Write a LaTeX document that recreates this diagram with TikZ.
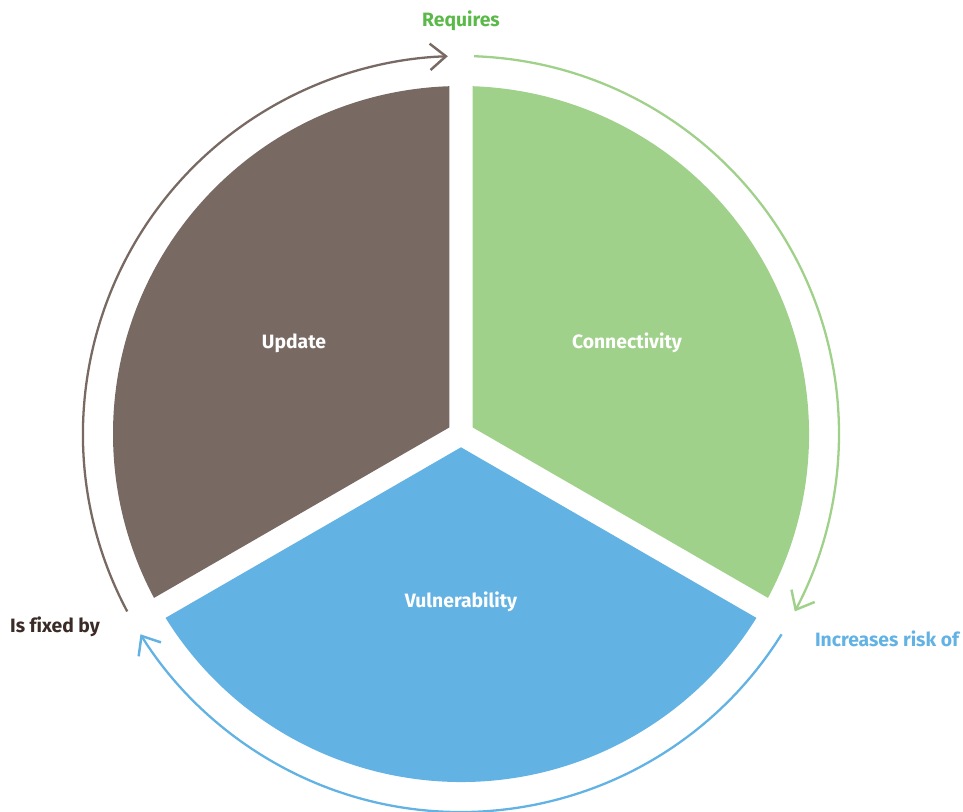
\documentclass[tikz,border=0pt]{standalone}
\usepackage{fontspec}
\setmainfont{Fira Sans}[Ligatures=NoCommon]
\usepackage{tikz}
\usetikzlibrary{arrows.meta}
\definecolor{updatebrown}{HTML}{786963}
\definecolor{connectgreen}{HTML}{A0D18A}
\definecolor{vulnblue}{HTML}{62B2E4}
\definecolor{requiresgreen}{HTML}{5BB94A}
\definecolor{fixeddark}{HTML}{3B2B27}
\tikzset{
  sectorlabel/.style={white, font=\bfseries\fontsize{11}{13}\selectfont},
  cyclelabel/.style={font=\bfseries\fontsize{11}{13}\selectfont},
  cyclearrow/.style={line width=1.3pt, -{Straight Barb[length=9pt, width=15pt, line width=1.4pt]}}
}

\begin{document}
\begin{tikzpicture}[x=0.02cm, y=0.02cm]
  \useasboundingbox (-461,-377) rectangle (502,434);
  % three sectors, each pulled off the centre to leave white gaps
  \fill[updatebrown] (150:13.3) -- (91.9:348) arc[start angle=91.9, end angle=208.1, radius=348] -- cycle;
  \fill[connectgreen] (30:13.3) -- (-28.1:348) arc[start angle=-28.1, end angle=88.1, radius=348] -- cycle;
  \fill[vulnblue] (-90:13.3) -- (211.9:348) arc[start angle=211.9, end angle=328.1, radius=348] -- cycle;
  \node[sectorlabel] (update) at (-167,91) {Update};
  \node[sectorlabel] (connect) at (166,91) {Connectivity};
  \node[sectorlabel] (vuln) at (0,-168) {Vulnerability};
  % outer cycle arrows
  \foreach \c/\s in {updatebrown/208, connectgreen/88, vulnblue/-32}{
    \draw[cyclearrow, \c] (\s:378) arc[start angle=\s, end angle=\s-116, radius=378];
  }
  \node[cyclelabel, requiresgreen] (requires) at (0,413) {Requires};
  \node[cyclelabel, vulnblue] (risk) at (426,-205) {Increases risk of};
  \node[cyclelabel, fixeddark] (fixed) at (-406,-193) {Is fixed by};
\end{tikzpicture}
\end{document}
